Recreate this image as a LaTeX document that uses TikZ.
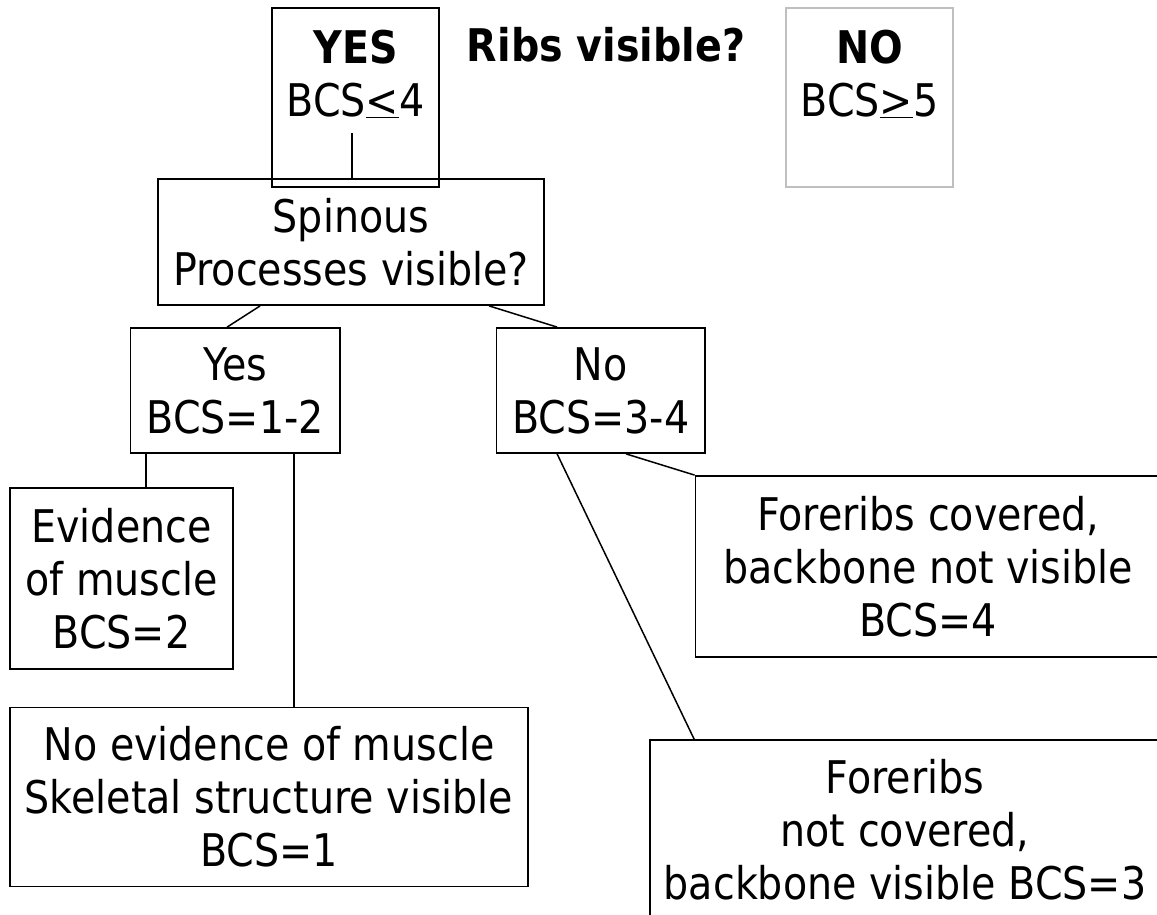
\documentclass[tikz,border=0pt]{standalone}
\usepackage{fontspec}
\setmainfont[FakeStretch=0.88]{DejaVu Sans}
\usetikzlibrary{calc}
\begin{document}
\begin{tikzpicture}[x=1pt,y=-1pt,
  box/.style={draw, line width=1.8pt, rectangle, inner sep=0pt, align=center, font=\fontsize{45}{53}\selectfont},
  greybox/.style={box, draw=black!25},
  txt/.style={inner sep=0pt, align=center, font=\fontsize{45}{53}\selectfont},
  link/.style={line width=1.5pt}]
\useasboundingbox (0,0) rectangle (1157,915);
\clip (0,0) rectangle (1157,915);
% top row
\node[box, minimum width=167pt, minimum height=179pt] (yes) at (355.5,97.5) {};
\node[txt] (yestxt) at (355.5,74) {\textbf{YES}\\BCS\underline{<}4};
\node[txt, anchor=base] (ribs) at (606,62) {\textbf{Ribs visible?}};
\node[greybox, minimum width=167pt, minimum height=179pt] (no) at (869.5,97.5) {};
\node[txt] (notxt) at (869.5,74) {\textbf{NO}\\BCS\underline{>}5};
% second level
\node[box, minimum width=386pt, minimum height=126pt] (spin) at (351,242) {Spinous\\Processes visible?};
\node[box, minimum width=209.5pt, minimum height=125pt] (yesb) at (235.25,390.5) {Yes\\BCS=1-2};
\node[box, minimum width=208.5pt, minimum height=125pt] (nob) at (600.75,390.5) {No\\BCS=3-4};
% leaves
\node[box, minimum width=223pt, minimum height=181pt] (evid) at (121.5,578.5) {Evidence\\of muscle\\BCS=2};
\node[box, minimum width=518pt, minimum height=179pt] (noev) at (269,797) {No evidence of muscle\\Skeletal structure visible\\BCS=1};
\node[box, minimum width=465.5pt, minimum height=181pt] (f4) at (928.25,566.5) {Foreribs covered,\\backbone not visible\\BCS=4};
\node[box, minimum width=510pt, minimum height=180pt] (f3) at (905,830) {Foreribs\\not covered,\\backbone visible BCS=3};
% connectors
\coordinate (yesstem) at (352,133);
\draw[link] (yesstem) -- (yesstem |- spin.north);
\draw[link] ([xshift=103pt]spin.south west) -- ([xshift=97.5pt]yesb.north west);
\draw[link] ([xshift=332pt]spin.south west) -- ([xshift=61.5pt]nob.north west);
\coordinate (ya) at ([xshift=16.5pt]yesb.south west);
\draw[link] (ya) -- (ya |- evid.north);
\coordinate (yb) at ([xshift=164.5pt]yesb.south west);
\draw[link] (yb) -- (yb |- noev.north);
\coordinate (na) at ([xshift=61.5pt]nob.south west);
\draw[link] (na) -- ([xshift=45pt]f3.north west);
\coordinate (nb) at ([xshift=130.5pt]nob.south west);
\draw[link] (nb) -- (f4.north west);
\end{tikzpicture}
\end{document}
